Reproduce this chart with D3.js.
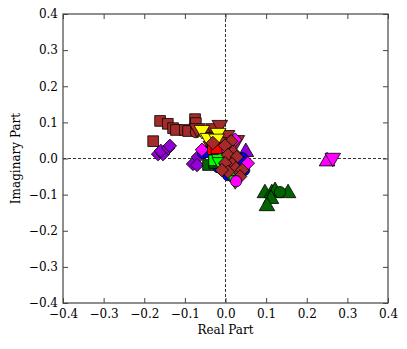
<!DOCTYPE html>
<html>
<head>
<meta charset="utf-8">
<script src="https://cdn.jsdelivr.net/npm/d3@7"></script>
<style>
  body { margin: 0; background: #fff; }
  text { font-family: "DejaVu Serif", serif; }
</style>
</head>
<body>
<div id="chart"></div>
<script>
// root locations as [real, imaginary]
const brownSquares = [[-0.161, 0.104], [-0.142, 0.096], [-0.129, 0.084], [-0.122, 0.079], [-0.100, 0.079],
  [-0.092, 0.076], [-0.075, 0.109], [-0.073, 0.098], [-0.178, 0.048]]
const brownCircles = [[-0.073, 0.073]]
const purpleDiamonds = [[-0.166, 0.012], [-0.154, 0.012], [-0.159, 0.021], [-0.141, 0.029], [-0.137, 0.035],
  [-0.080, -0.015], [-0.068, 0.004], [-0.070, -0.018]]
const purpleTriangles = [[0.050, 0.018]]
const brownDown = [[-0.070, 0.084], [-0.050, 0.076], [-0.030, 0.084], [-0.014, 0.093], [0.004, 0.065],
  [-0.041, 0.060], [-0.016, 0.046], [0.028, 0.051], [-0.036, 0.035]]
const yellowDown = [[-0.058, 0.079], [-0.043, 0.057], [-0.018, 0.071], [-0.022, 0.055]]
const blueMarks = [[-0.055, 0.015], [-0.046, 0.018], [0.041, 0.001], [0.041, -0.010], [-0.018, -0.024],
  [-0.006, -0.032], [0.006, -0.046], [0.046, -0.032], [0.010, -0.020]]
const magentaDiamonds = [[0.024, 0.052], [0.055, -0.013], [-0.006, 0.029], [-0.058, 0.024]]
const darkGreenSquares = [[-0.043, -0.018], [-0.028, -0.012]]
const limeSquares = [[-0.028, -0.005]]
const limeDown = [[-0.018, 0.004], [-0.014, -0.010], [0.011, -0.040], [0.024, -0.060]]
const redSquares = [[-0.031, 0.026], [-0.022, 0.028]]
const brownDiamonds = [[0.014, 0.048], [-0.031, 0.043], [-0.001, 0.036], [0.018, 0.018], [0.006, 0.010],
  [0.028, 0.004], [0.016, -0.015], [-0.001, -0.013], [0.026, -0.027], [0.006, -0.037], [0.041, -0.032],
  [0.036, -0.050], [-0.009, -0.032]]
const magentaCircles = [[0.026, -0.063]]
const magentaUp = [[0.250, -0.008]]
const magentaDown = [[0.264, 0.002]]
const darkGreenUp = [[0.097, -0.096], [0.114, -0.096], [0.122, -0.090], [0.154, -0.096], [0.112, -0.112], [0.102, -0.132]]
const darkGreenCircles = [[0.134, -0.093]]

const ticks = [-0.4, -0.3, -0.2, -0.1, 0.0, 0.1, 0.2, 0.3, 0.4]

const W = 407, H = 349
const margin = {left: 63, top: 14, right: 19, bottom: 46}
const w = W - margin.left - margin.right
const h = H - margin.top - margin.bottom

const svg = d3.select('#chart').append('svg')
  .attr('width', W).attr('height', H)

const g = svg.append('g').attr('transform', `translate(${margin.left},${margin.top})`)

const x = d3.scaleLinear().domain([-0.4, 0.4]).range([0, w])
const y = d3.scaleLinear().domain([-0.4, 0.4]).range([h, 0])

// dashed zero lines
g.append('line').attr('x1', x(0)).attr('x2', x(0)).attr('y1', 0).attr('y2', h)
  .attr('stroke', '#000').attr('stroke-width', 0.8).attr('stroke-dasharray', '3,2')
g.append('line').attr('x1', 0).attr('x2', w).attr('y1', y(0)).attr('y2', y(0))
  .attr('stroke', '#000').attr('stroke-width', 0.8).attr('stroke-dasharray', '3,2')

const fmt = d => d3.format('.1f')(d).replace('-', '\u2212')

const styleAxis = (sel, labels) => {
  sel.select('.domain').remove()
  sel.selectAll('.tick line').attr('stroke', '#444')
  sel.selectAll('.tick text').attr('fill', '#000').style('font-size', '12px')
    .style('font-family', '"DejaVu Serif", serif')
  if (!labels) sel.selectAll('.tick text').remove()
}

g.append('g').attr('transform', `translate(0,${h})`)
  .call(d3.axisBottom(x).tickValues(ticks).tickFormat(fmt).tickSizeInner(-5).tickSizeOuter(0).tickPadding(6))
  .call(s => styleAxis(s, true))
g.append('g')
  .call(d3.axisTop(x).tickValues(ticks).tickSizeInner(-5).tickSizeOuter(0))
  .call(s => styleAxis(s, false))
g.append('g')
  .call(d3.axisLeft(y).tickValues(ticks).tickFormat(fmt).tickSizeInner(-5).tickSizeOuter(0).tickPadding(5))
  .call(s => styleAxis(s, true))
g.append('g').attr('transform', `translate(${w},0)`)
  .call(d3.axisRight(y).tickValues(ticks).tickSizeInner(-5).tickSizeOuter(0))
  .call(s => styleAxis(s, false))

// markers
const series = [
  {data: brownSquares, color: '#a52a2a', shape: 'square'},
  {data: brownCircles, color: '#a52a2a', shape: 'circle'},
  {data: purpleDiamonds, color: '#9400d3', shape: 'diamond'},
  {data: purpleTriangles, color: '#9400d3', shape: 'up'},
  {data: brownDown, color: '#a52a2a', shape: 'down'},
  {data: yellowDown, color: '#ffff00', shape: 'down'},
  {data: blueMarks, color: '#0000ff', shape: 'circle'},
  {data: magentaDiamonds, color: '#ff00ff', shape: 'diamond'},
  {data: darkGreenSquares, color: '#006400', shape: 'square'},
  {data: limeSquares, color: '#00ff00', shape: 'square'},
  {data: limeDown, color: '#00ff00', shape: 'down'},
  {data: redSquares, color: '#ff0000', shape: 'square'},
  {data: brownDiamonds, color: '#a52a2a', shape: 'diamond'},
  {data: magentaCircles, color: '#ff00ff', shape: 'circle'},
  {data: magentaUp, color: '#ff00ff', shape: 'up'},
  {data: magentaDown, color: '#ff00ff', shape: 'down'},
  {data: darkGreenUp, color: '#006400', shape: 'up'},
  {data: darkGreenCircles, color: '#006400', shape: 'circle'}
]

const shapes = {
  square: {type: d3.symbolSquare, size: 115, rot: 0},
  diamond: {type: d3.symbolSquare, size: 90, rot: 45},
  circle: {type: d3.symbolCircle, size: 100, rot: 0},
  up: {type: d3.symbolTriangle, size: 105, rot: 0},
  down: {type: d3.symbolTriangle, size: 105, rot: 180}
}

series.forEach(s => {
  const sh = shapes[s.shape]
  g.append('g').selectAll('path')
    .data(s.data)
    .enter()
    .append('path')
    .attr('d', d3.symbol().type(sh.type).size(sh.size))
    .attr('transform', d => `translate(${x(d[0])},${y(d[1])}) rotate(${sh.rot})`)
    .attr('fill', s.color)
    .attr('stroke', '#000')
    .attr('stroke-width', 0.8)
})

// frame
g.append('rect').attr('width', w).attr('height', h)
  .attr('fill', 'none').attr('stroke', '#444').attr('stroke-width', 1.2)

svg.append('text')
  .attr('x', margin.left + w / 2).attr('y', 334)
  .attr('text-anchor', 'middle').style('font-size', '12px')
  .text('Real Part')

svg.append('text')
  .attr('transform', `translate(20,${margin.top + h / 2}) rotate(-90)`)
  .attr('text-anchor', 'middle').style('font-size', '12px')
  .text('Imaginary Part')
</script>
</body>
</html>
